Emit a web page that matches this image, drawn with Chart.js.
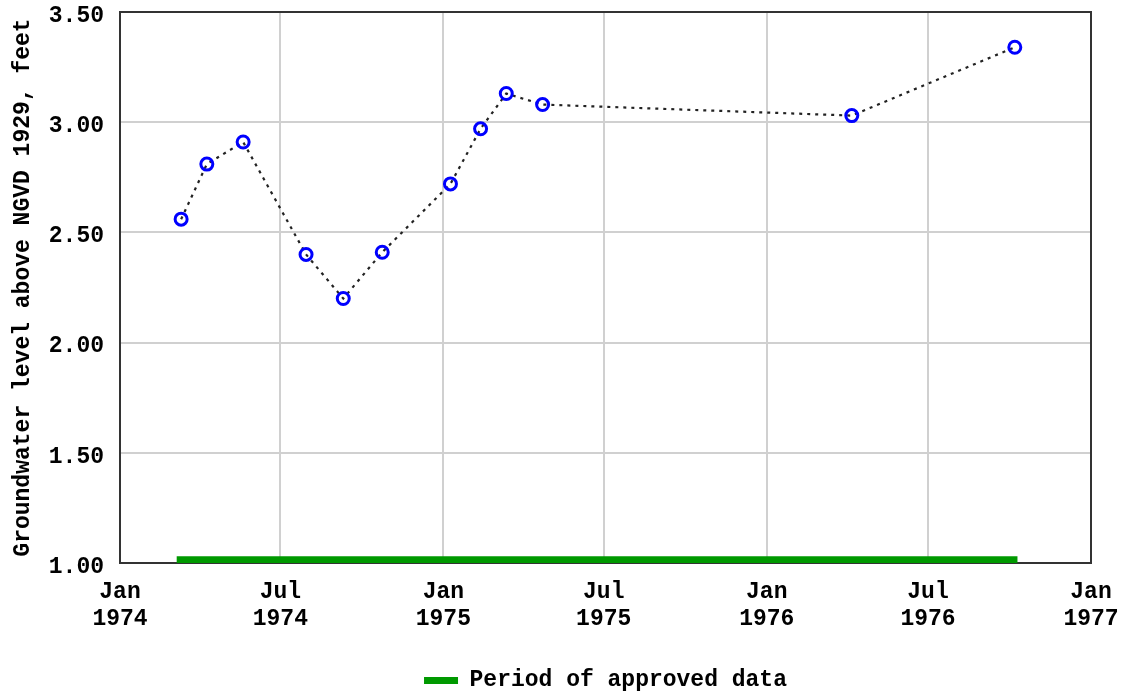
<!DOCTYPE html>
<html>
<head>
<meta charset="utf-8">
<script src="https://cdn.jsdelivr.net/npm/chart.js@4.4.0/dist/chart.umd.min.js"></script>
<style>
  html, body { margin: 0; padding: 0; background: #fff; }
  #wrap { width: 1121px; height: 696px; position: relative; }
</style>
</head>
<body>
<div id="wrap"><canvas id="grafica"></canvas></div>
<script>
// datos
const fechasMuestra = ['1974-03-11', '1974-04-09', '1974-05-20', '1974-07-30', '1974-09-10', '1974-10-24',
  '1975-01-09', '1975-02-12', '1975-03-13', '1975-04-23', '1976-04-06', '1976-10-07'];
const niveles = [2.56, 2.81, 2.91, 2.40, 2.20, 2.41, 2.72, 2.97, 3.13, 3.08, 3.03, 3.34];

const periodoAprobado = ['1974-03-06', '1976-10-10'];
const nivelBarra = [1.012, 1.012];

const fechasTicks = ['1974-01-01', '1974-07-01', '1975-01-01', '1975-07-01', '1976-01-01', '1976-07-01', '1977-01-01'];
const etiquetasTicks = [['Jan', '1974'], ['Jul', '1974'], ['Jan', '1975'], ['Jul', '1975'], ['Jan', '1976'], ['Jul', '1976'], ['Jan', '1977']];

const origen = Date.parse('1974-01-01');
const dia = s => (Date.parse(s) - origen) / 86400000;

const fuente = { family: '"Liberation Mono", "DejaVu Sans Mono", monospace', size: 23, weight: 'bold' };

// quitar el relleno automatico de las escalas
const sinPadding = s => { s.paddingTop = 0; s.paddingBottom = 0; s.paddingLeft = 0; s.paddingRight = 0; };

// marco alrededor del area de la grafica
const marco = {
  id: 'marco',
  beforeDatasetsDraw(chart) {
    const { ctx, chartArea: a } = chart;
    ctx.save();
    ctx.strokeStyle = '#333';
    ctx.lineWidth = 2;
    ctx.strokeRect(a.left, a.top, a.right - a.left, a.bottom - a.top);
    ctx.restore();
  }
};

const config = {
  type: 'line',
  data: {
    datasets: [{
      label: 'Nivel',
      data: fechasMuestra.map((f, i) => ({ x: dia(f), y: niveles[i] })),
      borderColor: '#222',
      borderWidth: 2.2,
      borderDash: [3, 5],
      pointRadius: 6,
      pointHoverRadius: 6,
      pointBorderWidth: 3,
      pointBorderColor: '#0000ff',
      pointBackgroundColor: 'rgba(0,0,0,0)',
      fill: false,
      order: 1
    }, {
      label: 'Period of approved data',
      data: periodoAprobado.map((f, i) => ({ x: dia(f), y: nivelBarra[i] })),
      borderColor: '#009900',
      backgroundColor: '#009900',
      borderWidth: 8,
      borderCapStyle: 'butt',
      pointRadius: 0,
      fill: false,
      order: 2
    }]
  },
  options: {
    responsive: false,
    animation: false,
    // el legend de chart.js deja 10px abajo, por eso el -6
    layout: { padding: { top: 12, right: 30, left: 0, bottom: -6 } },
    plugins: {
      tooltip: { enabled: false },
      legend: {
        position: 'bottom',
        fullSize: false,
        labels: {
          filter: item => item.datasetIndex === 1,
          generateLabels: chart => Chart.defaults.plugins.legend.labels.generateLabels(chart)
            .map(l => Object.assign(l, { lineWidth: 0 })),
          boxWidth: 34,
          boxHeight: 7,
          padding: 2,
          color: '#000',
          font: fuente
        }
      }
    },
    scales: {
      x: {
        type: 'linear',
        min: 0,
        max: dia('1977-01-01'),
        afterFit: s => { s.height = 104; sinPadding(s); },
        afterBuildTicks: s => { s.ticks = fechasTicks.map(f => ({ value: dia(f) })); },
        ticks: {
          color: '#000',
          font: fuente,
          padding: 15,
          maxRotation: 0,
          autoSkip: false,
          callback: (v, i) => etiquetasTicks[i]
        },
        grid: { color: '#d0d0d0', lineWidth: 2, drawTicks: false },
        border: { display: false }
      },
      y: {
        min: 1,
        max: 3.5,
        afterFit: s => { s.width = 120; sinPadding(s); },
        ticks: {
          stepSize: 0.5,
          color: '#000',
          font: fuente,
          padding: 16,
          labelOffset: 4,
          callback: v => v.toFixed(2)
        },
        grid: { color: '#d0d0d0', lineWidth: 2, drawTicks: false },
        border: { display: false },
        title: {
          display: true,
          text: 'Groundwater level above NGVD 1929, feet',
          color: '#000',
          font: fuente,
          padding: { top: 9, bottom: 0 }
        }
      }
    }
  },
  plugins: [marco]
};

window.addEventListener('DOMContentLoaded', () => {
  const canvas = document.getElementById('grafica');
  canvas.width = 1121;
  canvas.height = 696;
  new Chart(canvas, config);
});
</script>
</body>
</html>
